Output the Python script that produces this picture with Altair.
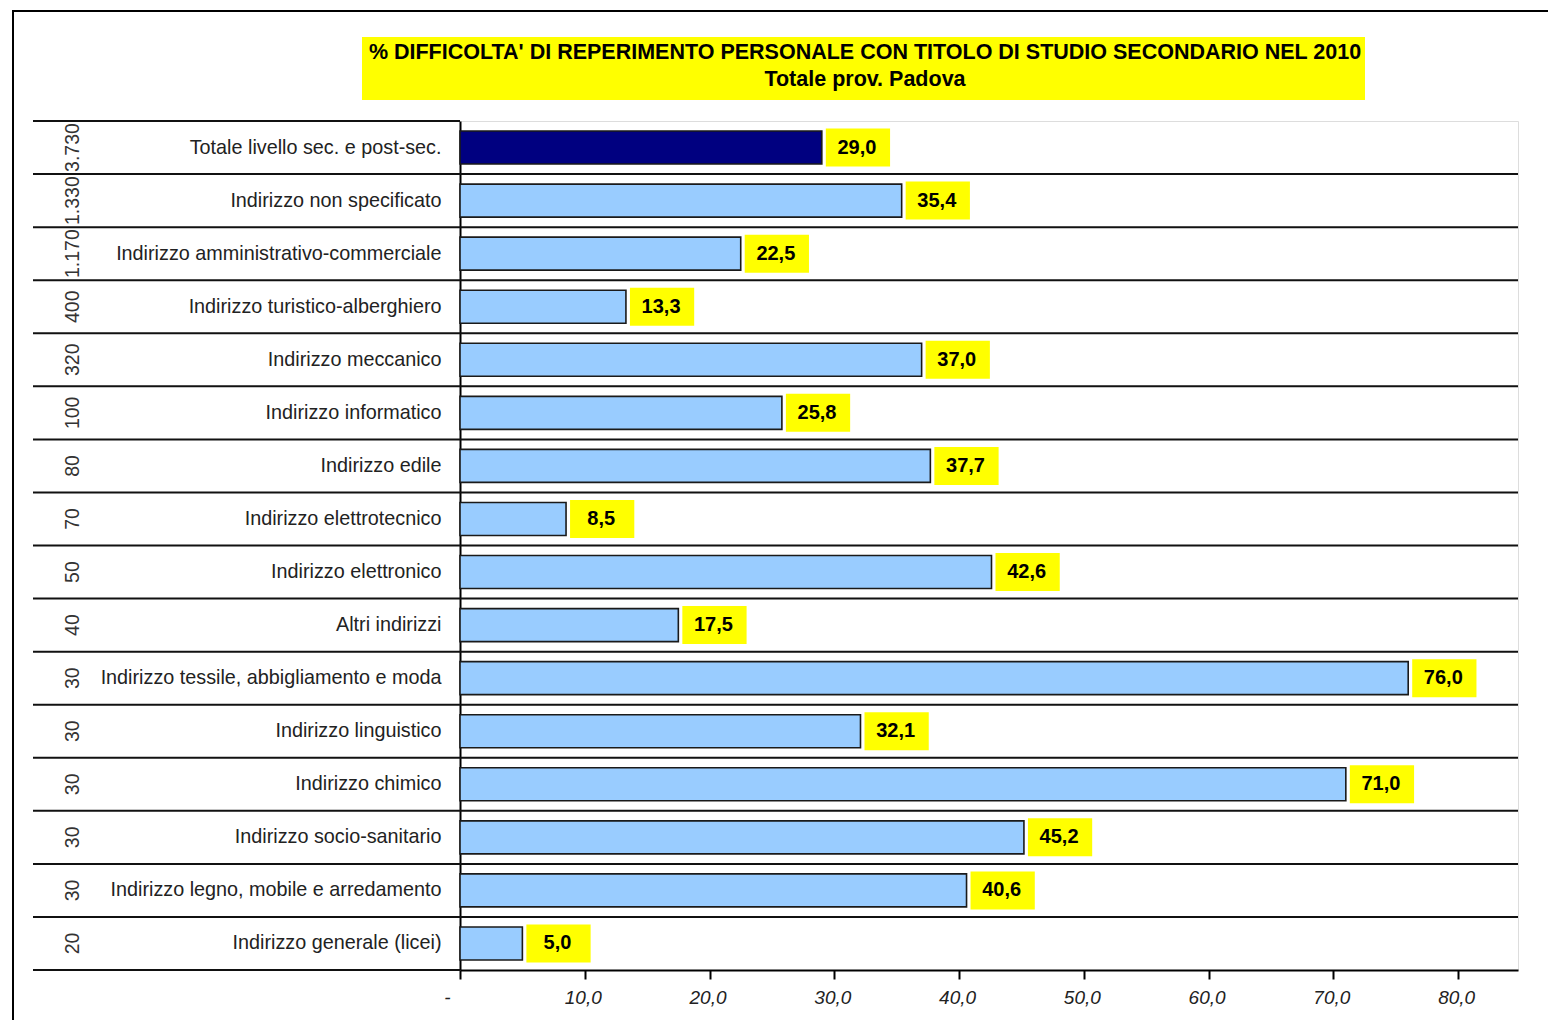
import altair as alt
import pandas as pd

categories = [
    "Totale livello sec. e post-sec.",
    "Indirizzo non specificato",
    "Indirizzo amministrativo-commerciale",
    "Indirizzo turistico-alberghiero",
    "Indirizzo meccanico",
    "Indirizzo informatico",
    "Indirizzo edile",
    "Indirizzo elettrotecnico",
    "Indirizzo elettronico",
    "Altri indirizzi",
    "Indirizzo tessile, abbigliamento e moda",
    "Indirizzo linguistico",
    "Indirizzo chimico",
    "Indirizzo socio-sanitario",
    "Indirizzo legno, mobile e arredamento",
    "Indirizzo generale (licei)",
]
values = [29.0, 35.4, 22.5, 13.3, 37.0, 25.8, 37.7, 8.5, 42.6, 17.5, 76.0, 32.1, 71.0, 45.2, 40.6, 5.0]
counts = ["3.730", "1.330", "1.170", "400", "320", "100", "80", "70", "50", "40",
          "30", "30", "30", "30", "30", "20"]
kinds = ["tot"] + ["ind"] * 15
title_line1 = "% DIFFICOLTA' DI REPERIMENTO PERSONALE CON  TITOLO DI STUDIO SECONDARIO NEL 2010"
title_line2 = "Totale prov. Padova"
x_ticks = [0, 10, 20, 30, 40, 50, 60, 70, 80]

df = pd.DataFrame({"cat": categories, "value": values, "count": counts, "kind": kinds})
title_df = pd.DataFrame({"t1": [title_line1], "t2": [title_line2]})

W, H = 1058, 849
FONT = "Liberation Sans"

ysc = alt.Scale(domain=categories, paddingInner=0, paddingOuter=0)
xsc = alt.Scale(domain=[0, 84.8], nice=False, zero=True)

yaxis = alt.Axis(title=None, ticks=False, domain=True, domainColor="black", domainWidth=2,
                 labelFont=FONT, labelFontSize=19.8, labelColor="#222", labelPadding=19,
                 labelLimit=600)
xaxis = alt.Axis(title=None, values=x_ticks, grid=False, domainColor="black", domainWidth=2,
                 tickColor="black", tickWidth=2, tickSize=9, labelFont=FONT,
                 labelFontSize=19, labelFontStyle="italic", labelColor="#222",
                 labelPadding=9,
                 labelExpr="datum.value == 0 ? '-' : replace(format(datum.value, '.1f'), '.', ',')",
                 labelAlign={"condition": {"test": "datum.value == 0", "value": "right"}, "value": "center"},
                 labelOffset={"condition": {"test": "datum.value == 0", "value": -10}, "value": -2})


def Y(**kw):
    return alt.Y("cat:N", sort=categories, scale=ysc, axis=yaxis, **kw)


base = alt.Chart(df)

frame = alt.Chart(title_df).mark_rect(fill="transparent", stroke="black", strokeWidth=2).encode(
    x=alt.value(-447), x2=alt.value(1150), y=alt.value(-110), y2=alt.value(1000))

title_box = alt.Chart(title_df).mark_rect(fill="#FFFF00").encode(
    x=alt.value(-98), x2=alt.value(905), y=alt.value(-84), y2=alt.value(-21))
title1 = alt.Chart(title_df).mark_text(font=FONT, fontWeight="bold", fontSize=21.5, align="center",
                                       baseline="middle", color="black").encode(
    x=alt.value(405), y=alt.value(-68), text="t1:N")
title2 = alt.Chart(title_df).mark_text(font=FONT, fontWeight="bold", fontSize=21.5, align="center",
                                       baseline="middle", color="black").encode(
    x=alt.value(405), y=alt.value(-41), text="t2:N")

rules_full = base.transform_filter("datum.kind == 'ind'").mark_rule(color="#111", strokeWidth=2).encode(
    y=Y(bandPosition=0), x=alt.value(-427), x2=alt.value(W))
rule_top_left = base.transform_filter("datum.kind == 'tot'").mark_rule(color="#111", strokeWidth=2).encode(
    y=Y(bandPosition=0), x=alt.value(-427), x2=alt.value(0))
rule_bottom_left = alt.Chart(title_df).mark_rule(color="#111", strokeWidth=2).encode(
    y=alt.value(H), x=alt.value(-427), x2=alt.value(0))

bars = base.mark_bar(size=33, stroke="#1a1a1a", strokeWidth=1.6).encode(
    x=alt.X("value:Q", scale=xsc, axis=xaxis),
    y=Y(),
    color=alt.Color("kind:N", scale=alt.Scale(domain=["tot", "ind"], range=["#000080", "#99CCFF"]),
                    legend=None),
)

boxes = base.transform_calculate(box_end="datum.value + 5.15").mark_bar(
    size=38, color="#FFFF00", xOffset=4, x2Offset=4).encode(
    x=alt.X("value:Q", scale=xsc, axis=xaxis), x2="box_end:Q", y=Y())

labels = base.transform_calculate(
    box_mid="datum.value + 2.575",
    label="replace(format(datum.value, '.1f'), '.', ',')",
).mark_text(font=FONT, fontWeight="bold", fontSize=20, align="center", baseline="middle",
            dx=3, color="black").encode(
    x=alt.X("box_mid:Q", scale=xsc, axis=xaxis), y=Y(), text="label:N")

count_text = base.mark_text(font=FONT, fontSize=19.5, angle=270, align="center", baseline="middle",
                            color="#333").encode(
    x=alt.value(-387), y=Y(), text="count:N")

chart = alt.layer(
    frame, title_box, title1, title2, boxes, bars, labels, count_text,
    rules_full, rule_top_left, rule_bottom_left,
).properties(
    width=W, height=H,
    autosize=alt.AutoSizeParams(type="none"),
    padding={"left": 452, "top": 113, "right": 30, "bottom": 50},
).configure_view(stroke="#999", strokeWidth=2).configure(background="white")

chart.save("out.html", embed_options={"renderer": "svg", "actions": False})
